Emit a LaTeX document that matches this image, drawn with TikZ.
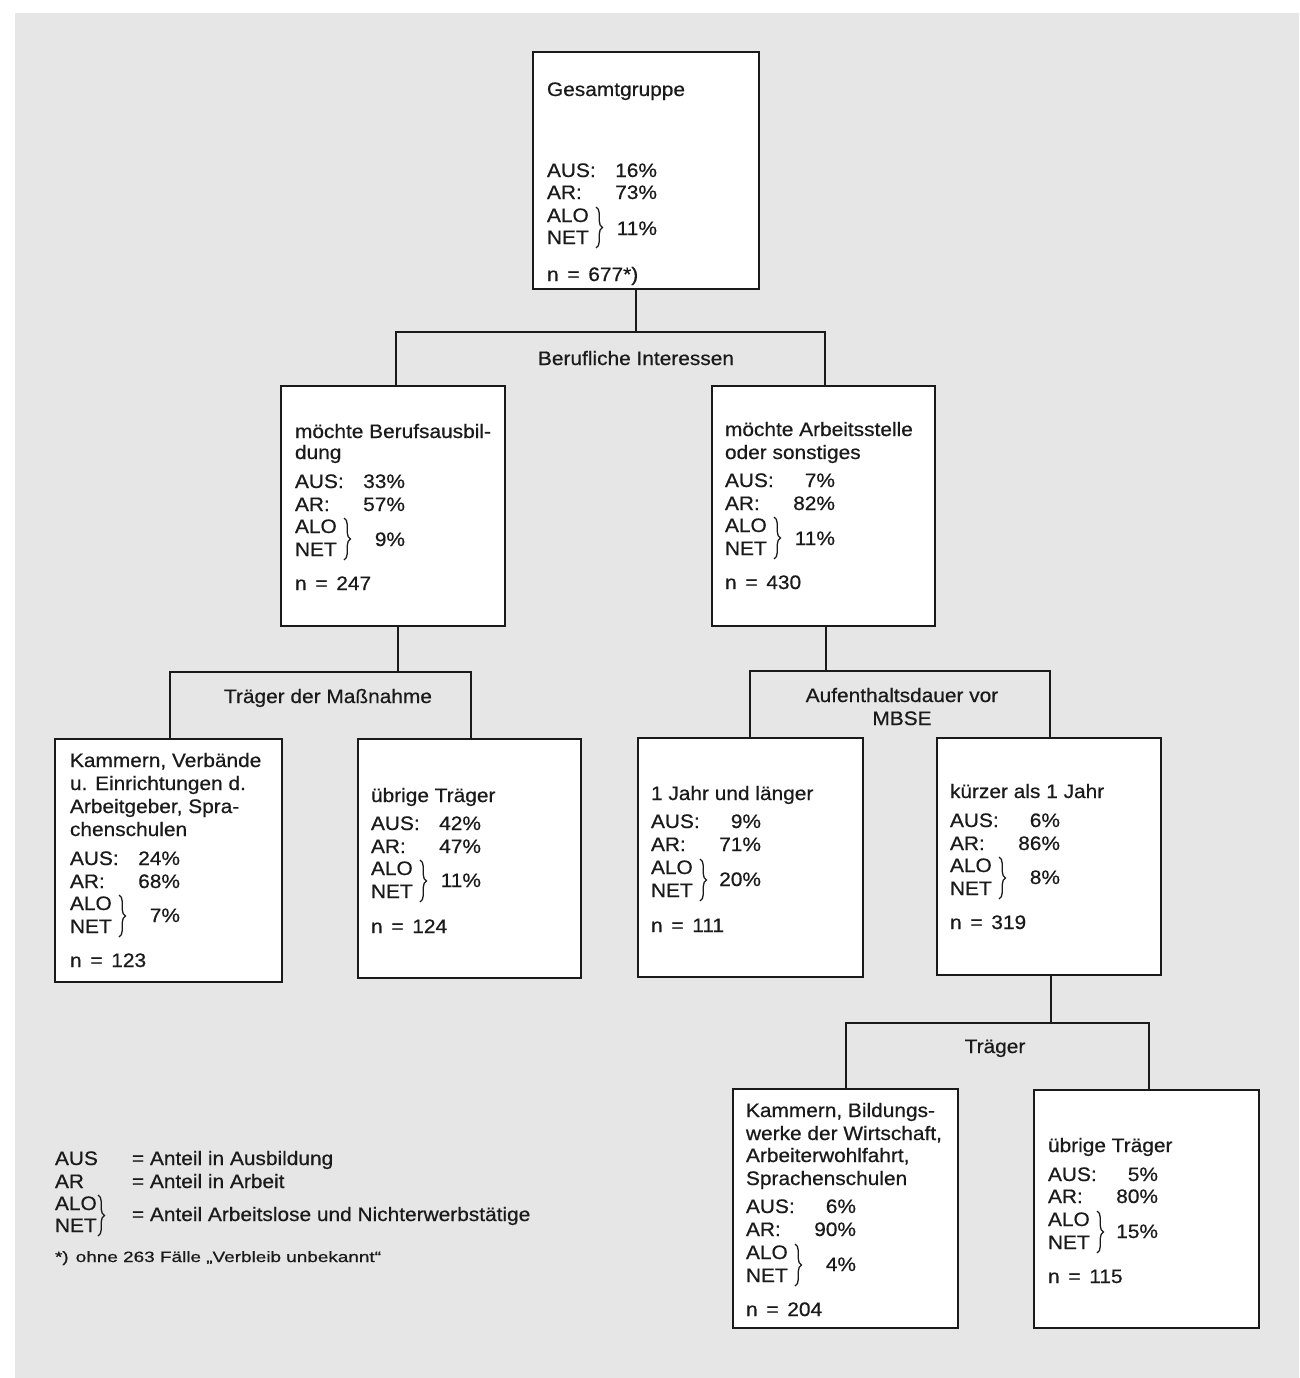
\documentclass[tikz,border=0pt]{standalone}
\usepackage{fontspec}
\setmainfont{Liberation Sans}[FakeStretch=1.07, FakeBold=0.6]
\usetikzlibrary{fit,decorations.pathreplacing}
\definecolor{bg}{HTML}{E6E6E6}
\definecolor{ink}{HTML}{1A1A1A}
\newcommand{\fsz}{\fontsize{19.5}{22}\selectfont}
\tikzset{
  box/.style={draw=ink, line width=1.8pt, fill=white, inner sep=0pt},
  conn/.style={draw=ink, line width=2.1pt, line join=miter},
  txt/.style={inner sep=0pt, outer sep=0pt, anchor=base west, text=ink, font=\fsz},
  val/.style={inner sep=0pt, outer sep=0pt, anchor=base east, text=ink, font=\fsz},
  lbl/.style={inner sep=0pt, outer sep=0pt, anchor=base, text=ink, font=\fsz},
  brc/.style={draw=ink, line width=1.3pt, decorate, decoration={brace, amplitude=6.5pt}},
}
\newcommand{\stA}[6]{%
  \node[txt] (#1-aus) at (#2,#3) {AUS:};
  \node[val] (#1-ausv) at ({#2+110},#3) {#5};
  \node[txt] (#1-ar) at (#2,#4) {AR:};
  \node[val] (#1-arv) at ({#2+110},#4) {#6};
}
\newcommand{\stB}[6]{%
  \node[txt] (#1-alo) at (#2,#3) {ALO};
  \node[txt] (#1-net) at (#2,#4) {NET};
  \draw[brc] ({#2+49},{#3-15}) -- ({#2+49},{#4+4});
  \node[val] (#1-alov) at ({#2+110},#5) {#6};
}
\newcommand{\stN}[4]{\node[txt] (#1-n) at (#2,#3) {n\hspace{0.45em}=\hspace{0.45em}#4};}
\begin{document}
\begin{tikzpicture}[x=1pt,y=-1pt]
\useasboundingbox (0,0) rectangle (1299,1378);
\fill[white] (0,0) rectangle (1299,1378);
\fill[bg] (15,13) rectangle (1299,1378);

% connectors
\coordinate (gj) at (636,332);
\coordinate (b1x) at (396,332);
\coordinate (b2x) at (825,332);
\coordinate (b1j) at (398,672);
\coordinate (c1x) at (170,672);
\coordinate (c2x) at (471,672);
\coordinate (b2j) at (826,671);
\coordinate (d1x) at (750,671);
\coordinate (d2x) at (1050,671);
\coordinate (d2j) at (1051,1023);
\coordinate (e1x) at (846,1023);
\coordinate (e2x) at (1149,1023);

% boxes
\node[box, fit={(533,52) (759,289)}] (g) {};
\node[box, fit={(281,386) (505,626)}] (b1) {};
\node[box, fit={(712,386) (935,626)}] (b2) {};
\node[box, fit={(55,739) (282,982)}] (c1) {};
\node[box, fit={(358,739) (581,978)}] (c2) {};
\node[box, fit={(638,738) (863,977)}] (d1) {};
\node[box, fit={(937,738) (1161,975)}] (d2) {};
\node[box, fit={(733,1089) (958,1328)}] (e1) {};
\node[box, fit={(1034,1090) (1259,1328)}] (e2) {};

\draw[conn] (g.south -| gj) -- (gj);
\draw[conn] (b1.north -| b1x) -- (b1x) -- (b2x) -- (b2.north -| b2x);
\draw[conn] (b1.south -| b1j) -- (b1j);
\draw[conn] (c1.north -| c1x) -- (c1x) -- (c2x) -- (c2.north -| c2x);
\draw[conn] (b2.south -| b2j) -- (b2j);
\draw[conn] (d1.north -| d1x) -- (d1x) -- (d2x) -- (d2.north -| d2x);
\draw[conn] (d2.south -| d2j) -- (d2j);
\draw[conn] (e1.north -| e1x) -- (e1x) -- (e2x) -- (e2.north -| e2x);

% branch labels
\node[lbl] (l1) at (636,365) {Berufliche Interessen};
\node[lbl] (l2) at (328,703) {Träger der Maßnahme};
\node[lbl] (l3a) at (902,702) {Aufenthaltsdauer vor};
\node[lbl] (l3b) at (902,725) {MBSE};
\node[lbl] (l4) at (995,1053) {Träger};

% g
\node[txt] (g-t1) at (547,96) {Gesamtgruppe};
\stA{g}{547}{177}{199}{16\%}{73\%}
\stB{g}{547}{222}{244}{235}{11\%}
\stN{g}{547}{281}{677*)}

% b1
\node[txt] (b1-t1) at (295,438) {möchte Berufsausbil-};
\node[txt] (b1-t2) at (295,459) {dung};
\stA{b1}{295}{488}{511}{33\%}{57\%}
\stB{b1}{295}{533}{556}{546}{9\%}
\stN{b1}{295}{590}{247}

% b2
\node[txt] (b2-t1) at (725,436) {möchte Arbeitsstelle};
\node[txt] (b2-t2) at (725,459) {oder sonstiges};
\stA{b2}{725}{487}{510}{7\%}{82\%}
\stB{b2}{725}{532}{555}{545}{11\%}
\stN{b2}{725}{589}{430}

% c1
\node[txt] (c1-t1) at (70,767) {Kammern, Verbände};
\node[txt] (c1-t2) at (70,790) {u. Einrichtungen d.};
\node[txt] (c1-t3) at (70,813) {Arbeitgeber, Spra-};
\node[txt] (c1-t4) at (70,836) {chenschulen};
\stA{c1}{70}{865}{888}{24\%}{68\%}
\stB{c1}{70}{910}{933}{922}{7\%}
\stN{c1}{70}{967}{123}

% c2
\node[txt] (c2-t1) at (371,802) {übrige Träger};
\stA{c2}{371}{830}{853}{42\%}{47\%}
\stB{c2}{371}{875}{898}{887}{11\%}
\stN{c2}{371}{933}{124}

% d1
\node[txt] (d1-t1) at (651,800) {1 Jahr und länger};
\stA{d1}{651}{828}{851}{9\%}{71\%}
\stB{d1}{651}{874}{897}{886}{20\%}
\stN{d1}{651}{932}{111}

% d2
\node[txt] (d2-t1) at (950,798) {kürzer als 1 Jahr};
\stA{d2}{950}{827}{850}{6\%}{86\%}
\stB{d2}{950}{872}{895}{884}{8\%}
\stN{d2}{950}{929}{319}

% e1
\node[txt] (e1-t1) at (746,1117) {Kammern, Bildungs-};
\node[txt] (e1-t2) at (746,1140) {werke der Wirtschaft,};
\node[txt] (e1-t3) at (746,1162) {Arbeiterwohlfahrt,};
\node[txt] (e1-t4) at (746,1185) {Sprachenschulen};
\stA{e1}{746}{1213}{1236}{6\%}{90\%}
\stB{e1}{746}{1259}{1282}{1271}{4\%}
\stN{e1}{746}{1316}{204}

% e2
\node[txt] (e2-t1) at (1048,1152) {übrige Träger};
\stA{e2}{1048}{1181}{1203}{5\%}{80\%}
\stB{e2}{1048}{1226}{1249}{1238}{15\%}
\stN{e2}{1048}{1283}{115}

% legend
\node[txt] (lg-aus) at (55,1165) {AUS};
\node[txt] (lg-ausd) at (132,1165) {= Anteil in Ausbildung};
\node[txt] (lg-ar) at (55,1188) {AR};
\node[txt] (lg-ard) at (132,1188) {= Anteil in Arbeit};
\node[txt] (lg-alo) at (55,1210) {ALO};
\node[txt] (lg-net) at (55,1232) {NET};
\draw[brc] (98,1195) -- (98,1236);
\node[txt] (lg-alod) at (132,1221) {= Anteil Arbeitslose und Nichterwerbstätige};
\node[txt, font=\fontsize{15}{18}\selectfont] (lg-fn) at (55,1262) {\scalebox{1.18}[1]{*)\hspace{0.4em}ohne 263 Fälle „Verbleib unbekannt“}};
\end{tikzpicture}
\end{document}
